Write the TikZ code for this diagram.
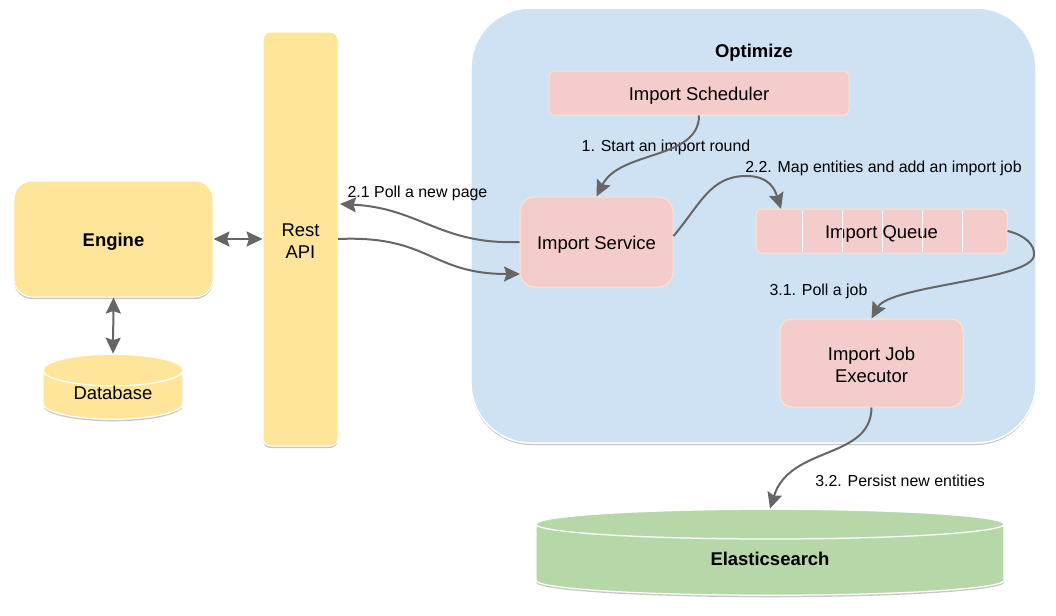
\documentclass[tikz,border=0pt]{standalone}
\usepackage{fontspec}
\setmainfont{Liberation Sans}
\usetikzlibrary{arrows.meta}
\usetikzlibrary{shapes.geometric}
\usetikzlibrary{shadows}
\definecolor{optblue}{HTML}{CFE2F3}
\definecolor{imppink}{HTML}{F4CCCC}
\definecolor{pinkline}{HTML}{FCE5CD}
\definecolor{engyellow}{HTML}{FFE599}
\definecolor{esgreen}{HTML}{B6D7A8}
\definecolor{arrowgray}{HTML}{666666}
\tikzset{
  softshadow/.style={general shadow={shadow yshift=-0.4mm, fill=black, opacity=0.22}},
  box/.style={rectangle, align=center, inner sep=0pt, text height=8.5pt, text depth=0pt, font=\fontsize{10.5}{12.5}\selectfont},
  twolines/.style={text height=22pt},
  impbox/.style={box, draw=pinkline, fill=imppink, line width=0.2mm},
  engbox/.style={box, softshadow, draw=white, fill=engyellow, line width=0.2mm},
  store/.style={box, softshadow, cylinder, shape border rotate=90, draw=white, line width=0.25mm},
  steplabel/.style={inner sep=0pt, text height=6.5pt, text depth=0pt, font=\fontsize{9.05}{11}\selectfont},
  flow/.style={draw=arrowgray, line width=0.4mm, -{Stealth[length=3.2mm, width=3mm, inset=0.5mm]}},
  twoway/.style={flow, {Stealth[length=3.2mm, width=3mm, inset=0.5mm]}-{Stealth[length=3.2mm, width=3mm, inset=0.5mm]}}
}
\begin{document}
\begin{tikzpicture}[x=0.2mm, y=-0.2mm]
  \useasboundingbox (0, 0) rectangle (1056, 615);
  \node [box, softshadow, draw=white, fill=optblue, line width=0.3mm, rounded corners=12mm,
         minimum width=113mm, minimum height=87mm] (optimize) at (753.5, 225.5) {};  % stora rutan
  \node [font=\fontsize{10.5}{12.5}\selectfont\bfseries, inner sep=0pt, text height=8.5pt, text depth=0pt] (optimizetitle) at (754, 50) {Optimize};

  \node [engbox, rounded corners=3.6mm, minimum width=39.8mm, minimum height=23.2mm,
         font=\fontsize{10.5}{12.5}\selectfont\bfseries] (engine) at (113.5, 239) {Engine};
  \node [engbox, twolines, rounded corners=1.6mm, minimum width=15mm, minimum height=82.8mm] (rest) at (300.5, 239) {Rest\\API};
  \node [store, fill=engyellow, minimum width=28mm, minimum height=13mm, shape aspect=0.4] (database) at (113, 395) {\raisebox{1.7pt}{Database}};
  \node [store, fill=esgreen, minimum width=93.6mm, minimum height=17.2mm, shape aspect=0.25,
         text height=9.7pt, font=\fontsize{10.5}{12.5}\selectfont\bfseries] (elastic) at (770, 560) {\raisebox{1.7pt}{Elasticsearch}};

  \node [impbox, rounded corners=1mm, minimum width=60mm, minimum height=8.8mm] (scheduler) at (699, 93) {Import Scheduler};
  \node [impbox, rounded corners=3mm, minimum width=30.6mm, minimum height=18mm] (service) at (596.5, 242) {Import Service};
  \node [impbox, rounded corners=1mm, minimum width=50.2mm, minimum height=8.8mm] (queue) at (881.5, 231) {Import Queue};
  \node [impbox, twolines, rounded corners=2.4mm, minimum width=36.6mm, minimum height=17.6mm] (executor) at (871.5, 363) {Import Job\\Executor};

  \foreach \cellx in {802, 842, 882, 922, 962} {
    \draw [white, line width=0.2mm] (\cellx, 210) -- (\cellx, 252);  % fack i kon
  }

  \node [steplabel] (startlabel) at (666, 146) {1. Start an import round};
  \node [steplabel] (polllabel) at (417.5, 192) {2.1 Poll a new page};
  \node [steplabel] (maplabel) at (883.5, 167) {2.2. Map entities and add an import job};
  \node [steplabel] (joblabel) at (818.5, 290) {3.1. Poll a job};
  \node [steplabel] (persistlabel) at (900, 481) {3.2. Persist new entities};

  \coordinate (restout) at (338, 239);
  \coordinate (restin) at (340, 204);
  \coordinate (servicein) at (520, 274);
  \coordinate (mapmid) at (746, 176);
  \coordinate (queuein) at (781, 209);
  \coordinate (queueturn) at (1034, 255);

  \draw [twoway] (engine.east) -- (rest.west);
  \draw [twoway] (engine.south) -- (database.north);
  \draw [flow] (scheduler.south) .. controls (699, 160) and (620, 150) .. (service.north);
  \draw [flow] (service.west) .. controls (440, 245) and (420, 208) .. (restin);
  \draw [flow] (restout) .. controls (430, 235) and (430, 274) .. (servicein);
  \draw [flow] ([yshift=1.2mm]service.east) .. controls (700, 205) and (710, 176) .. (mapmid)
    .. controls (770, 176) and (775, 190) .. (queuein);
  \draw [flow] (queue.east) .. controls (1025, 235) and (1035, 245) .. (queueturn)
    .. controls (1033, 280) and (890, 285) .. (executor.north);
  \draw [flow] (executor.south) .. controls (871, 460) and (790, 445) .. (elastic.north);
\end{tikzpicture}
\end{document}
